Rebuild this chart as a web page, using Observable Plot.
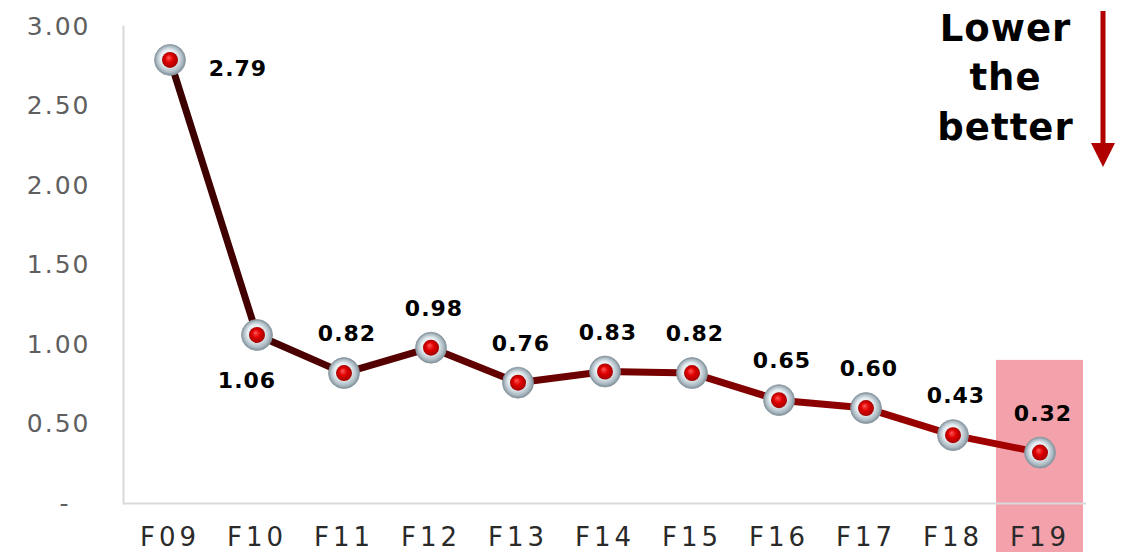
<!DOCTYPE html>
<html>
<head>
<meta charset="utf-8">
<script src="https://cdn.jsdelivr.net/npm/d3@7"></script>
<script src="https://cdn.jsdelivr.net/npm/@observablehq/plot@0.6"></script>
<style>
  html, body { margin: 0; padding: 0; background: #fff; }
  #chart { position: relative; width: 1128px; height: 552px; }
</style>
</head>
<body>
<div id="chart"></div>
<script>
const categories = ["F09", "F10", "F11", "F12", "F13", "F14", "F15", "F16", "F17", "F18", "F19"];
const values = [2.79, 1.06, 0.82, 0.98, 0.76, 0.83, 0.82, 0.65, 0.60, 0.43, 0.32];
const yTicks = [0, 0.5, 1, 1.5, 2, 2.5, 3];
const yTickLabels = ["-\u00a0\u00a0", "0.50", "1.00", "1.50", "2.00", "2.50", "3.00"];
const highlightCategory = "F19";
const highlightTop = 0.9;
const annotationText = "Lower\nthe\nbetter";

const data = categories.map((c, i) => ({cat: c, v: values[i], i}));
const fmt = d => d.v.toFixed(2);

const plot = Plot.plot({
  width: 1128,
  height: 552,
  marginLeft: 123,
  marginRight: 42,
  marginTop: 26,
  marginBottom: 49,
  style: {background: "white", overflow: "visible", fontFamily: "DejaVu Sans"},
  x: {domain: categories, padding: 0, axis: null, label: null},
  y: {domain: [0, 3], axis: null, label: null},
  marks: [
    Plot.barY([{cat: highlightCategory, v: highlightTop}], {x: "cat", y: "v", fill: "#f3a1aa", insetBottom: -49}),
    Plot.ruleY([0], {stroke: "#d9d9d9", strokeWidth: 2}),
    Plot.frame({anchor: "left", stroke: "#d9d9d9", strokeWidth: 2}),
    Plot.axisY({ticks: yTicks, tickFormat: d => yTickLabels[yTicks.indexOf(d)], tickSize: 0, tickPadding: 33, fontSize: 25, fill: "#5f5f5f", label: null}),
    Plot.axisX({tickSize: 0, tickPadding: 24, fontSize: 26, fill: "#2a2a2a", label: null}),
    Plot.line(data, {x: "cat", y: "v", stroke: "url(#lineGrad)", strokeWidth: 7, curve: "linear"}),
    Plot.dot(data, {x: "cat", y: "v", r: 15.5, fill: "url(#silverGrad)", stroke: "#8e9aa3", strokeWidth: 0.8}),
    Plot.dot(data, {x: "cat", y: "v", r: 8, fill: "url(#rubyGrad)"}),
    Plot.text(data.filter(d => d.i === 0), {x: "cat", y: "v", text: fmt, dx: 68, dy: 9, fontSize: 22, fontWeight: "bold", fill: "#000"}),
    Plot.text(data.filter(d => d.i === 1), {x: "cat", y: "v", text: fmt, dx: -10, dy: 46, fontSize: 22, fontWeight: "bold", fill: "#000"}),
    Plot.text(data.filter(d => d.i > 1), {x: "cat", y: "v", text: fmt, dx: 3, dy: -39, fontSize: 22, fontWeight: "bold", fill: "#000"}),
    Plot.text([annotationText], {frameAnchor: "top-right", text: d => d, textAnchor: "middle", lineAnchor: "middle", lineHeight: 1.35, dx: -81, dy: 48, fontSize: 37, fontWeight: "bold", fill: "#000"})
  ]
});

const svg = d3.select(plot);
const defs = svg.insert("defs", ":first-child");
const lg = defs.append("linearGradient").attr("id", "lineGrad").attr("x1", "0").attr("x2", "1").attr("y1", "0").attr("y2", "0");
lg.append("stop").attr("offset", "0%").attr("stop-color", "#3a0000");
lg.append("stop").attr("offset", "100%").attr("stop-color", "#a80000");
const sg = defs.append("radialGradient").attr("id", "silverGrad").attr("cx", "50%").attr("cy", "50%").attr("r", "50%").attr("fx", "42%").attr("fy", "38%");
sg.append("stop").attr("offset", "0%").attr("stop-color", "#ffffff");
sg.append("stop").attr("offset", "55%").attr("stop-color", "#e4ecf0");
sg.append("stop").attr("offset", "85%").attr("stop-color", "#aab8c1");
sg.append("stop").attr("offset", "100%").attr("stop-color", "#7d8c96");
const rg = defs.append("radialGradient").attr("id", "rubyGrad").attr("cx", "50%").attr("cy", "50%").attr("r", "55%").attr("fx", "40%").attr("fy", "35%");
rg.append("stop").attr("offset", "0%").attr("stop-color", "#ff5a5a");
rg.append("stop").attr("offset", "45%").attr("stop-color", "#e00000");
rg.append("stop").attr("offset", "100%").attr("stop-color", "#9a0000");

svg.selectAll('g[aria-label="y-axis tick label"] text').attr("letter-spacing", 2);
svg.selectAll('g[aria-label="x-axis tick label"] text').attr("letter-spacing", 4);
svg.selectAll('g[aria-label="text"] text').attr("letter-spacing", 1);

// "lower the better" arrow annotation, right of the frame
const ax = 1128 - 42 + 17;
const arrow = svg.append("g").attr("aria-label", "annotation arrow");
arrow.append("line").attr("x1", ax).attr("x2", ax).attr("y1", 11).attr("y2", 146).attr("stroke", "#b00000").attr("stroke-width", 5);
arrow.append("path").attr("d", `M${ax - 12},143L${ax + 12},143L${ax},167Z`).attr("fill", "#b00000");

document.getElementById("chart").append(plot);
</script>
</body>
</html>
